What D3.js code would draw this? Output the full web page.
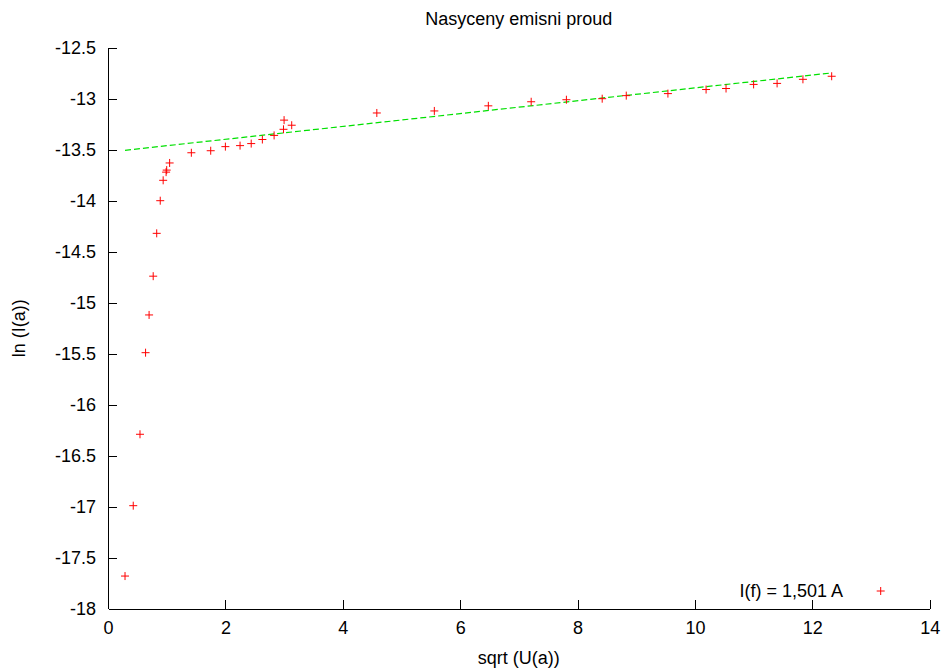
<!DOCTYPE html>
<html>
<head>
<meta charset="utf-8">
<script src="https://cdn.jsdelivr.net/npm/d3@7/dist/d3.min.js"></script>
<style>
body{margin:0;background:#fff;}
svg text{font-family:"Liberation Sans",Arial,sans-serif;fill:#000;}
</style>
</head>
<body>
<div id="chart"></div>
<script>
const width=944;
const height=669;
const margin={top:47.7,right:14.3,bottom:60.3,left:108};
// measured points: sqrt(U(a)) vs ln(I(a))
const sqrtU=[0.29,0.43,0.545,0.64,0.70,0.77,0.83,0.89,0.94,0.99,1.0,1.05,1.42,1.75,2.0,2.25,2.44,2.63,2.83,2.99,3.0,3.13,4.58,5.56,6.48,7.21,7.81,8.42,8.83,9.54,10.19,10.53,11.0,11.40,11.84,12.33];
const lnI=[-17.68,-16.99,-16.29,-15.49,-15.12,-14.74,-14.32,-14.0,-13.80,-13.72,-13.70,-13.63,-13.53,-13.51,-13.47,-13.46,-13.44,-13.40,-13.36,-13.30,-13.21,-13.26,-13.14,-13.12,-13.07,-13.03,-13.01,-13.00,-12.97,-12.95,-12.91,-12.90,-12.86,-12.85,-12.81,-12.78];
// linear fit a + b*x
const fitA=-13.524;
const fitB=0.063;
const xticks=[0,2,4,6,8,10,12,14];
const yticks=[-12.5,-13,-13.5,-14,-14.5,-15,-15.5,-16,-16.5,-17,-17.5,-18];
const title="Nasyceny emisni proud";
const xlabel="sqrt (U(a))";
const ylabel="ln (I(a))";
const legendlabel="I(f) = 1,501 A";

const fs="18px";
const svg=d3.select("#chart").append("svg")
    .attr("width",width).attr("height",height);
const x=d3.scaleLinear().domain([0,14]).range([margin.left,width-margin.right]);
const y=d3.scaleLinear().domain([-18,-12.5]).range([height-margin.bottom,margin.top]);

const xaxis=svg.append("g")
    .attr("transform",`translate(0,${y(-18)})`)
    .call(d3.axisBottom(x).tickValues(xticks).tickSizeInner(-9).tickSizeOuter(0).tickPadding(12.5).tickFormat(d3.format("d")));
const yaxis=svg.append("g")
    .attr("transform",`translate(${x(0)},0)`)
    .call(d3.axisLeft(y).tickValues(yticks).tickSizeInner(-9).tickSizeOuter(0).tickPadding(12).tickFormat(d=>String(d).replace("−","-")));
[xaxis,yaxis].forEach(g=>{
    g.selectAll("text").style("font-size",fs).attr("font-family",null);
    g.selectAll("path,line").attr("stroke","#000").attr("stroke-width",1).attr("shape-rendering","crispEdges");
    g.attr("font-family",null).attr("font-size",null);
});
// no tick at the corner of the y axis bottom / x axis start
xaxis.selectAll(".tick").filter(d=>d===0).select("line").remove();
yaxis.selectAll(".tick").filter(d=>d===-18).select("line").remove();

svg.append("text").attr("x",(x(0)+x(14))/2).attr("y",25)
    .attr("text-anchor","middle").style("font-size",fs).text(title);
svg.append("text").attr("x",(x(0)+x(14))/2).attr("y",664)
    .attr("text-anchor","middle").style("font-size",fs).text(xlabel);
svg.append("text").attr("transform",`translate(25,${(y(-12.5)+y(-18))/2}) rotate(-90)`)
    .attr("text-anchor","middle").style("font-size",fs).text(ylabel);

// fit line
const x0=d3.min(sqrtU),x1=d3.max(sqrtU);
svg.append("line")
    .attr("x1",x(x0)).attr("y1",y(fitA+fitB*x0))
    .attr("x2",x(x1)).attr("y2",y(fitA+fitB*x1))
    .attr("stroke","#00e000").attr("stroke-width",1.2).attr("stroke-dasharray","6,3");

const pts=sqrtU.map((d,i)=>({x:d,y:lnI[i]}));
function cross(g,cx,cy){
    g.append("path")
        .attr("d",`M${cx-4},${cy}H${cx+4}M${cx},${cy-4}V${cy+4}`)
        .attr("stroke","#ff0000").attr("stroke-width",1).attr("fill","none");
}
const pg=svg.append("g");
pts.forEach(p=>cross(pg,x(p.x),y(p.y)));

// legend
svg.append("text").attr("x",843).attr("y",597)
    .attr("text-anchor","end").style("font-size",fs).text(legendlabel);
cross(svg,880.7,591);
</script>
</body>
</html>
